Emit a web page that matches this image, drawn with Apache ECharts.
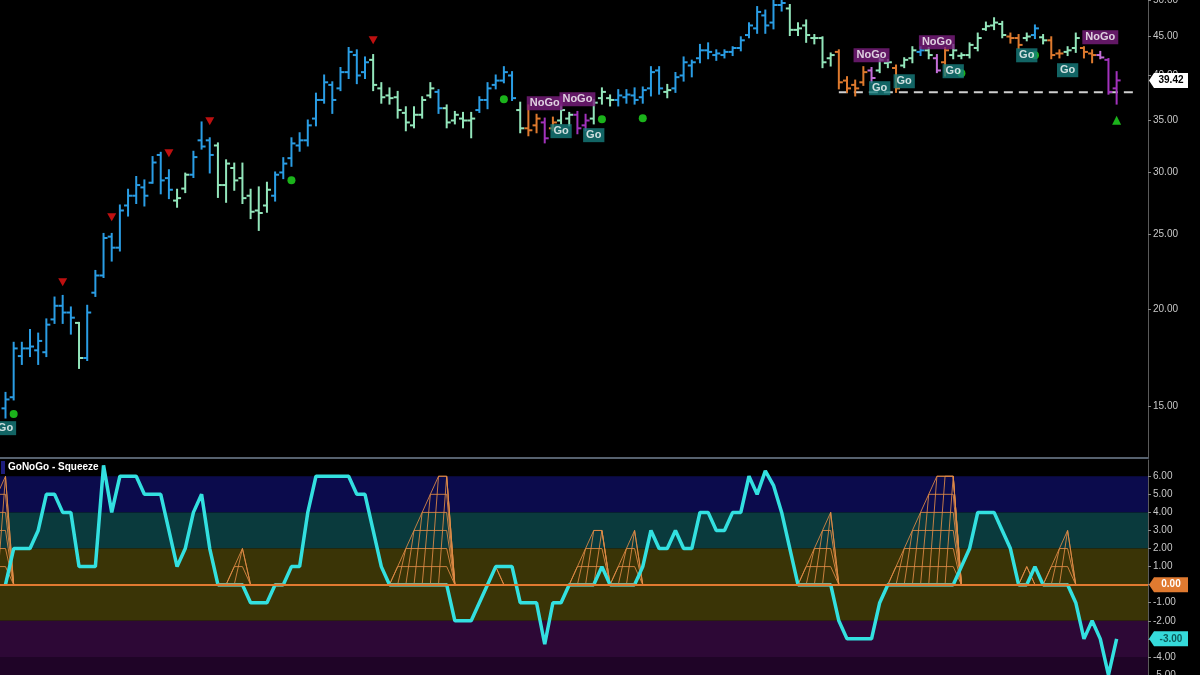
<!DOCTYPE html>
<html><head><meta charset="utf-8">
<script src="https://cdn.jsdelivr.net/npm/echarts@6/dist/echarts.min.js"></script>
<style>html,body{margin:0;padding:0;background:#000;}#c{width:1200px;height:675px;}</style>
</head><body><div id="c"></div>
<script>
// ---------- DATA ----------
const opens = [
14.9,15.4,17.4,17.8,17.7,17.6,19.4,20.2,19.8,19.2,
17.3,21.0,22.1,24.8,24.0,27.2,28.0,28.7,29.1,31.6,
29.5,27.6,28.6,29.8,33.0,33.0,32.5,28.9,30.4,29.5,
28.0,26.8,27.2,28.0,30.0,31.3,32.5,33.0,35.2,37.2,
38.9,38.5,40.4,42.5,40.4,41.9,38.5,37.7,37.5,35.8,
34.5,35.6,37.7,38.1,36.3,35.0,35.2,35.0,36.1,37.2,
38.9,39.4,40.0,36.1,34.2,34.5,34.8,34.2,35.0,35.2,
35.6,34.5,35.2,37.4,37.4,37.2,37.5,37.7,37.5,38.5,
40.6,38.1,38.5,40.0,41.2,42.1,43.1,42.5,42.5,42.9,
43.4,45.1,46.0,47.8,46.8,49.3,48.8,45.8,46.4,44.7,
44.7,42.1,42.9,39.4,38.9,39.2,40.6,40.6,41.5,40.9,
41.2,42.1,42.9,43.1,42.1,41.6,42.5,42.4,42.5,43.4,
45.9,46.4,46.6,44.9,44.7,44.7,45.1,44.8,44.4,42.7,
42.9,43.4,43.4,42.7,42.5,41.9,38.5];
const highs = [
15.6,18.1,18.1,18.8,18.6,19.4,20.7,20.8,20.1,19.2,
20.2,22.4,25.0,25.0,27.2,28.5,29.6,29.3,31.4,31.8,
30.2,28.5,29.9,31.9,34.8,33.2,32.7,31.1,30.8,30.8,
28.5,28.7,29.1,30.0,31.3,33.2,33.7,35.0,37.9,40.0,
39.2,40.9,43.4,43.1,42.2,42.5,39.1,38.5,38.1,36.4,
36.4,37.5,39.1,38.3,36.6,35.9,35.8,35.8,37.5,39.1,
40.0,41.0,40.4,36.9,36.6,35.6,35.2,35.3,36.6,35.8,
35.9,35.6,37.2,38.5,37.7,38.3,38.3,38.5,38.6,41.0,
41.0,38.9,40.3,42.2,41.8,43.8,44.0,43.1,43.1,43.5,
44.8,46.7,49.0,48.5,50.0,50.3,49.3,46.7,47.1,45.1,
44.8,42.7,43.1,39.8,39.4,41.0,40.9,42.1,41.9,41.2,
42.1,43.5,43.5,43.4,42.5,43.4,43.8,42.7,44.0,45.3,
46.8,47.4,46.9,45.3,45.1,45.3,46.4,45.1,44.8,43.1,
43.5,45.3,43.5,43.1,42.9,42.0,40.4];
const lows = [
14.5,15.3,17.0,17.4,17.0,17.4,19.2,19.2,18.6,16.8,
17.2,20.8,22.0,23.1,23.8,26.4,27.4,27.2,29.1,28.2,
27.8,27.1,28.3,29.6,32.2,30.0,27.9,27.5,28.5,27.4,
26.2,25.3,26.7,27.6,29.5,30.6,32.0,32.5,34.5,36.9,
35.8,38.3,39.7,39.1,39.7,38.3,36.9,36.8,35.3,34.0,
34.3,35.3,37.5,35.8,34.3,34.7,34.3,33.3,35.9,36.3,
38.5,39.2,37.2,33.8,33.5,33.8,32.8,34.0,34.7,34.5,
33.7,34.0,34.7,36.8,36.6,36.6,36.9,36.8,36.9,37.7,
37.9,37.5,38.1,39.4,39.9,41.6,42.1,41.9,42.2,42.5,
43.1,44.8,45.4,45.4,46.0,48.5,45.1,45.1,44.2,44.0,
41.0,41.2,38.5,38.1,37.7,38.9,39.2,40.4,41.0,38.1,
41.0,41.6,42.5,42.1,40.4,40.0,42.1,42.1,42.2,43.1,
45.8,45.9,44.8,44.1,43.4,44.4,44.7,44.0,42.1,42.2,
42.5,42.9,42.2,41.6,42.1,37.9,36.8];
const closes = [
15.3,17.8,17.8,17.9,18.2,19.1,20.2,19.8,19.5,17.3,
19.8,22.1,24.7,24.0,26.8,28.0,28.9,28.0,30.9,29.3,
28.5,27.8,29.8,31.4,32.4,31.6,28.9,30.8,29.3,27.8,
26.7,26.6,28.5,29.8,30.8,32.7,33.0,34.5,37.2,39.2,
37.2,40.4,42.9,40.0,41.6,38.9,37.5,37.4,36.1,34.8,
35.6,37.2,38.5,36.3,34.8,35.6,35.0,35.2,37.2,38.5,
39.4,40.4,37.4,34.2,34.0,35.2,33.2,34.8,36.1,35.6,
34.2,35.0,36.9,38.1,37.2,37.7,37.8,37.2,38.3,40.4,
38.5,38.3,39.8,41.6,41.6,43.1,42.9,42.7,42.9,43.4,
44.4,46.4,48.3,46.4,49.3,49.6,45.8,46.0,45.1,44.7,
41.6,42.5,39.2,38.5,38.5,40.4,39.7,41.9,41.6,38.5,
41.9,43.1,43.1,42.5,40.6,43.1,43.1,42.5,43.8,44.7,
46.3,46.8,45.1,44.7,43.8,44.9,46.0,44.4,42.5,42.7,
43.1,44.7,42.9,42.5,42.2,38.1,39.42];
// trend state per bar: B strong Go, A weak Go, O amber, K weak NoGo, P strong NoGo
const trend = ("BBBBBBBBB"+"A"+"BBBBBBBBBBB"+"AA"+"BBB"+"AAAAAAA"+"BBBBBBBBBBBB"+"AAAAAAAA"+"B"+"AAAA"+"BBBBB"+"A"+
  "OO"+"P"+"O"+"AA"+"PP"+"AAA"+"BBBBBB"+"A"+"BBBBBBBBBBBBBB"+"AAAAAA"+"OOOO"+"K"+"AA"+"O"+"AA"+"B"+"A"+"K"+"O"+
  "AAAAAAA"+"OO"+"A"+"B"+"A"+"OO"+"AA"+"OO"+"K"+"PP").split('');
const oscillator = [
0,2,2,2,3,5,5,4,4,1,
1,1,6.6,4,6,6,6,5,5,5,
3,1,2,4,5,2,0,0,0,0,
-1,-1,-1,0,0,1,1,4,6,6,
6,6,6,5,5,3,1,0,0,0,
0,0,0,0,0,-2,-2,-2,-1,0,
1,1,1,-1,-1,-1,-3.3,-1,-1,0,
0,0,0,1,0,0,0,0,1,3,
2,2,3,2,2,4,4,3,3,4,
4,6,5,6.3,5.5,4,2,0,0,0,
0,0,-2,-3,-3,-3,-3,-1,0,0,
0,0,0,0,0,0,0,1,2,4,
4,4,3,2,0,0,1,0,0,0,
0,-1,-3,-2,-3,-5,-3];
// squeeze level per bar [barIndex, level]
const squeezeLevels = [[0,6],[28,1],[29,2],[48,1],[49,2],[50,3],[51,4],[52,5],[53,6],[54,6],[60,1],
  [70,1],[71,2],[72,3],[73,3],[75,1],[76,2],[77,3],[98,1],[99,2],[100,3],[101,4],
  [109,1],[110,2],[111,3],[112,4],[113,5],[114,6],[115,6],[116,6],[125,1],[128,1],[129,2],[130,3]];
const goLabels = [[0,14.05],[68,33.91],[72,33.51],[107,38.52],[110,39.32],[116,40.51],[125,42.47],[130,40.63]];
const noGoLabels = [[66,36.84],[70,37.28],[106,42.47],[114,44.15],[134,44.81]];
const greenDots = [[1,14.65],[35,29.32],[61,37.28],[73,35.13],[78,35.24],[117,40.27],[126,42.47]];
const redTriangles = [[7,21.66],[13,26.27],[20,31.77],[25,34.93],[45,44.41]];
const greenTriangles = [[136,35.03]];
const supportLevel = 38.06;
const supportSpan = [102, 138];
const priceTicks = [15,20,25,30,35,40,45,50];
const bandLevels = [[4,6],[2,4],[-2,2],[-4,-2],[-5,-4]];

// ---------- STYLE / LAYOUT ----------
const FONT = 'Liberation Sans, Arial, Helvetica, sans-serif';
const X_MIN = -0.673, X_MAX = 139.84;
const trendColor = {B:'#2a9de4', A:'#93e6bb', O:'#de7a2e', K:'#c46fd8', P:'#a232bc'};
const bandColors = ['#0b0b4c','#0a3a3d','#3a3406','#2d0836','#1f0427'];
const SQ_COLOR = 'rgba(226,140,70,0.85)';

const N = closes.length;
const ohlcData = closes.map((c,i)=>[i, opens[i], highs[i], lows[i], c]);

// squeeze runs
const sqMap = {}; squeezeLevels.forEach(([i,l])=>{sqMap[i]=l;});
const runs = []; let cur = null;
for (let i=0;i<N;i++){ if(sqMap[i]>0){ if(!cur){cur=[];runs.push(cur);} cur.push([i,sqMap[i]]);} else cur=null; }
runs.forEach(run=>{ const [i0,l0]=run[0]; for(let k=l0-1;k>=1;k--) run.unshift([i0-(l0-k),k]); });

function clipRect(params){ const cs=params.coordSys; return {type:'rect', shape:{x:cs.x,y:cs.y,width:cs.width,height:cs.height}}; }

function renderOHLC(params, api){
  const i = api.value(0);
  const o = api.coord([i, api.value(1)]), h = api.coord([i, api.value(2)]);
  const l = api.coord([i, api.value(3)]), c = api.coord([i, api.value(4)]);
  const col = trendColor[trend[params.dataIndex]];
  const st = {stroke:col, lineWidth:2};
  return {type:'group', clipPath: clipRect(params), children:[
    {type:'line', shape:{x1:h[0],y1:h[1]-1,x2:l[0],y2:l[1]+1}, style:st},
    {type:'line', shape:{x1:o[0]-4,y1:o[1],x2:o[0],y2:o[1]}, style:st},
    {type:'line', shape:{x1:c[0],y1:c[1],x2:c[0]+4,y2:c[1]}, style:st}
  ]};
}
function renderSqueeze(params, api){
  const run = runs[params.dataIndex];
  const last = run[run.length-1][0];
  const st = {stroke:SQ_COLOR, fill:null, lineWidth:1};
  const children = [];
  const outer = [api.coord([run[0][0]-1,0])];
  run.forEach(([idx,lev])=>{
    outer.push(api.coord([idx,lev]));
    children.push({type:'polyline', shape:{points:[api.coord([idx-1,0]),api.coord([idx,lev]),api.coord([last,lev]),api.coord([last+1,0])]}, style:st});
  });
  outer.push(api.coord([last+1,0]));
  children.push({type:'polyline', shape:{points:outer}, style:st});
  return {type:'group', clipPath: clipRect(params), children};
}
function renderBands(params, api){
  const cs = params.coordSys;
  const top = api.coord([0, api.value(1)])[1], bot = api.coord([0, api.value(0)])[1];
  return {type:'rect', shape:{x:cs.x, y:top, width:cs.width, height:bot-top}, style:{fill:bandColors[params.dataIndex]}};
}
function makeTag(fill, textColor, fmt){
  return function(params, api){
    const p = api.coord([api.value(0), api.value(1)]);
    const x0 = p[0]+1, y = p[1];
    return {type:'group', children:[
      {type:'polygon', shape:{points:[[x0,y],[x0+5,y-7.5],[x0+39,y-7.5],[x0+39,y+7.5],[x0+5,y+7.5]]}, style:{fill}},
      {type:'text', style:{text:fmt(api.value(1)), x:x0+22, y:y, fill:textColor, fontSize:10, fontWeight:'bold', fontFamily:FONT, align:'center', verticalAlign:'middle'}}
    ]};
  };
}

const axisLabelStyle = {color:'#c8c8c8', fontSize:10, fontFamily:FONT, margin:5};
const chart = echarts.init(document.getElementById('c'), null, {renderer:'canvas'});
chart.setOption({
  animation:false,
  backgroundColor:'#000',
  textStyle:{fontFamily:FONT},
  title:{text:'GoNoGo - Squeeze', left:8, top:462, padding:0, textStyle:{color:'#fff', fontSize:10, fontWeight:'bold', fontFamily:FONT}},
  graphic:[{type:'rect', left:1, top:461, shape:{width:4, height:13}, style:{fill:'#1d1d7c'}}],
  grid:[
    {left:0, right:52, top:0, height:458, containLabel:false, outerBoundsMode:'none'},
    {left:0, right:52, top:460, height:215, containLabel:false, outerBoundsMode:'none'}
  ],
  xAxis:[
    {type:'value', gridIndex:0, min:X_MIN, max:X_MAX, axisLine:{show:true, onZero:false, lineStyle:{color:'#56616e', width:2}}, axisTick:{show:false}, axisLabel:{show:false}, splitLine:{show:false}},
    {type:'value', gridIndex:1, min:X_MIN, max:X_MAX, show:false, splitLine:{show:false}}
  ],
  yAxis:[
    {type:'log', gridIndex:0, min:12.86, max:50.04, position:'right',
     axisLine:{show:true, onZero:false, lineStyle:{color:'#5a5a5a'}},
     axisTick:{show:true, length:3, customValues:priceTicks, lineStyle:{color:'#888'}},
     axisLabel:Object.assign({customValues:priceTicks, formatter:v=>Number(v).toFixed(2)}, axisLabelStyle),
     splitLine:{show:false}},
    {type:'value', gridIndex:1, min:-5, max:6.9, interval:1, position:'right',
     axisLine:{show:true, onZero:false, lineStyle:{color:'#5a5a5a'}},
     axisTick:{show:true, length:3, lineStyle:{color:'#888'}},
     axisLabel:Object.assign({formatter:v=>Number(v).toFixed(2), showMaxLabel:false}, axisLabelStyle),
     splitLine:{show:false}}
  ],
  series:[
    // upper panel
    {type:'custom', name:'price', xAxisIndex:0, yAxisIndex:0, renderItem:renderOHLC, data:ohlcData, encode:{x:0, y:[1,2,3,4]}, z:3, silent:true},
    {type:'line', xAxisIndex:0, yAxisIndex:0, data:[[supportSpan[0],supportLevel],[supportSpan[1],supportLevel]], showSymbol:false, lineStyle:{color:'#d0d0d0', width:2, type:[9,6]}, z:2, silent:true},
    {type:'scatter', xAxisIndex:0, yAxisIndex:0, data:redTriangles, symbol:'triangle', symbolRotate:180, symbolSize:[9,8], itemStyle:{color:'#ee1414'}, z:4, silent:true},
    {type:'scatter', xAxisIndex:0, yAxisIndex:0, data:greenDots, symbol:'circle', symbolSize:8, itemStyle:{color:'#22e022'}, z:4, silent:true},
    {type:'scatter', xAxisIndex:0, yAxisIndex:0, data:greenTriangles, symbol:'triangle', symbolSize:[9,9], itemStyle:{color:'#22e022'}, z:4, silent:true},
    {type:'scatter', xAxisIndex:0, yAxisIndex:0, data:goLabels, symbol:'rect', symbolSize:1, itemStyle:{color:'rgba(0,0,0,0)'}, z:6, silent:true,
     label:{show:true, position:'inside', formatter:'Go', color:'#fff', backgroundColor:'#167d7d', padding:[2,3,1,3], fontSize:11, fontWeight:'bold', fontFamily:FONT}},
    {type:'scatter', xAxisIndex:0, yAxisIndex:0, data:noGoLabels, symbol:'rect', symbolSize:1, itemStyle:{color:'rgba(0,0,0,0)'}, z:6, silent:true,
     label:{show:true, position:'inside', formatter:'NoGo', color:'#fff', backgroundColor:'#7a1e7e', padding:[2,3,1,3], fontSize:11, fontWeight:'bold', fontFamily:FONT}},
    {type:'custom', xAxisIndex:0, yAxisIndex:0, renderItem:makeTag('#ffffff','#000000',v=>v.toFixed(2)), data:[[X_MAX, closes[N-1]]], encode:{x:0,y:1}, z:10, silent:true, clip:false},
    // lower panel
    {type:'custom', xAxisIndex:1, yAxisIndex:1, renderItem:renderBands, data:bandLevels.map(b=>[b[0],b[1],0]), encode:{x:2, y:[0,1]}, z:0, silent:true},
    {type:'custom', xAxisIndex:1, yAxisIndex:1, renderItem:renderSqueeze, data:runs.map(r=>[r[0][0],0]), encode:{x:0,y:1}, z:1, silent:true},
    {type:'line', xAxisIndex:1, yAxisIndex:1, data:[], z:2, silent:true,
     markLine:{silent:true, symbol:'none', label:{show:false}, lineStyle:{color:'#e07a30', width:2, type:'solid'}, data:[{yAxis:0}]}},
    {type:'line', xAxisIndex:1, yAxisIndex:1, data:oscillator.map((v,i)=>[i,v]), showSymbol:false, lineStyle:{color:'#33e0e0', width:3.5}, z:3, silent:true},
    {type:'line', xAxisIndex:1, yAxisIndex:1, data:oscillator.map((v,i)=>[i, v===0 ? 0 : '-']), showSymbol:false, connectNulls:false, lineStyle:{color:'#80ad90', width:3.5}, z:4, silent:true},
    {type:'custom', xAxisIndex:1, yAxisIndex:1, renderItem:makeTag('#e07a30','#ffffff',v=>v.toFixed(2)), data:[[X_MAX, 0]], encode:{x:0,y:1}, z:10, silent:true, clip:false},
    {type:'custom', xAxisIndex:1, yAxisIndex:1, renderItem:makeTag('#35dada','#0d5c5c',v=>v.toFixed(2)), data:[[X_MAX, oscillator[N-1]]], encode:{x:0,y:1}, z:10, silent:true, clip:false}
  ]
});
</script></body></html>
